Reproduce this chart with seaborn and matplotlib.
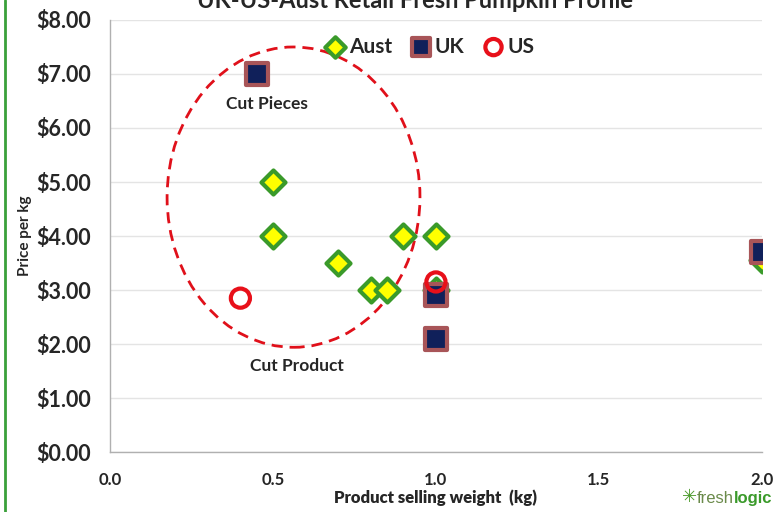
import matplotlib
matplotlib.use("Agg")
import matplotlib.pyplot as plt
from matplotlib.patches import Ellipse
from matplotlib.ticker import FuncFormatter, MultipleLocator
import seaborn as sns
import pandas as pd

aust_weight = [0.5, 0.5, 0.7, 0.8, 0.85, 0.9, 1.0, 1.0, 2.0]
aust_price = [5.0, 4.0, 3.5, 3.0, 3.0, 4.0, 4.0, 3.0, 3.55]
uk_weight = [0.45, 1.0, 1.0, 2.0]
uk_price = [7.0, 2.9, 2.1, 3.7]
us_weight = [0.4, 1.0]
us_price = [2.85, 3.15]

sns.set_style("white")
plt.rcParams['font.family'] = ['Lato', 'DejaVu Sans']

fig = plt.figure(figsize=(7.75, 5.12), dpi=100)
ax = fig.add_axes([0.142, 0.117, 0.841, 0.844])

df_aust = pd.DataFrame({"w": aust_weight, "p": aust_price})
df_uk = pd.DataFrame({"w": uk_weight, "p": uk_price})
df_us = pd.DataFrame({"w": us_weight, "p": us_price})

sns.scatterplot(data=df_aust, x="w", y="p", ax=ax, marker="D", s=150,
                color="#ffff00", edgecolor="#3a9a2a", linewidth=3.0, label="Aust", zorder=3)
sns.scatterplot(data=df_uk, x="w", y="p", ax=ax, marker="s", s=230,
                color="#10205a", edgecolor="#a85558", linewidth=3.0, label="UK", zorder=4)
sns.scatterplot(data=df_us, x="w", y="p", ax=ax, marker="o", s=190,
                color="none", edgecolor="#e8101a", linewidth=3.0, label="US", zorder=5)

ell = Ellipse((0.563, 4.72), 0.776, 5.56, fill=False, edgecolor="#e0101a",
              linestyle=(0, (4, 2.5)), linewidth=2.0, zorder=2)
ax.add_patch(ell)

ax.text(0.48, 6.44, "Cut Pieces", ha="center", va="center", fontsize=12.5, fontweight="bold")
ax.text(0.574, 1.59, "Cut Product", ha="center", va="center", fontsize=12.5, fontweight="bold")

ax.set_xlim(0, 2.0)
ax.set_ylim(0, 8.0)
ax.xaxis.set_major_locator(MultipleLocator(0.5))
ax.yaxis.set_major_locator(MultipleLocator(1.0))
ax.xaxis.set_major_formatter(FuncFormatter(lambda v, p: f"{v:.1f}"))
ax.yaxis.set_major_formatter(FuncFormatter(lambda v, p: f"${v:.2f}"))
ax.grid(axis="y", color="#e4e4e4", linewidth=1.0)
ax.set_axisbelow(True)
for s in ["top", "right"]:
    ax.spines[s].set_visible(False)
for s in ["left", "bottom"]:
    ax.spines[s].set_color("#b0b0b0")
    ax.spines[s].set_linewidth(1.0)
ax.tick_params(axis="y", labelsize=15.5, pad=10)
ax.tick_params(axis="x", labelsize=12, pad=11)
for lab in ax.get_xticklabels() + ax.get_yticklabels():
    lab.set_fontweight("bold")

ax.set_xlabel("Product selling weight  (kg)", fontsize=12, fontweight="heavy", labelpad=1)
ax.set_ylabel("Price per kg", fontsize=11, fontweight="bold")
ax.yaxis.set_label_coords(-0.12, 0.5)

leg = ax.legend(loc="upper center", bbox_to_anchor=(0.49, 1.005), ncol=3, frameon=False,
                fontsize=15, handletextpad=0.15, columnspacing=0.9, handlelength=1.0,
                markerscale=0.85)
for t in leg.get_texts():
    t.set_fontweight("bold")

fig.text(0.535, 1.0, "UK-US-Aust Retail Fresh Pumpkin Profile", ha="center", va="center",
         fontsize=17, fontweight="bold")

fig.add_artist(plt.Line2D([0.007, 0.007], [0, 1], color="#3aa03a", linewidth=2.0))

fig.text(0.899, 0.012, "\u2733", ha="right", va="bottom", fontsize=13, color="#4a9a2a",
         family=["DejaVu Sans"])
fig.text(0.899, 0.012, "fresh", ha="left", va="bottom", fontsize=12, color="#6a8a4a",
         family=["Liberation Sans"])
fig.text(0.947, 0.012, "logic", ha="left", va="bottom", fontsize=12, color="#3a9a2a",
         fontweight="bold", family=["Liberation Sans"])

fig.savefig("out.png", dpi=100)
